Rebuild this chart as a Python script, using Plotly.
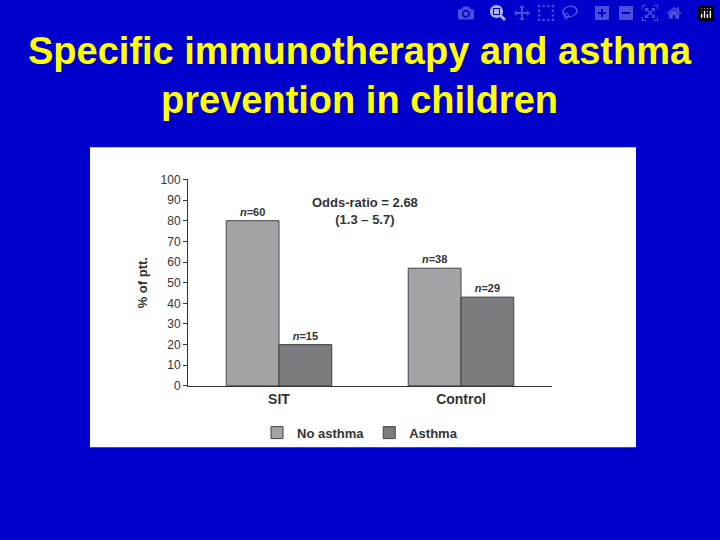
import plotly.graph_objects as go

groups = ["SIT", "Control"]
no_asthma = [80, 57]
asthma = [20, 43]
n_no = ["<b><i>n</i>=60</b>", "<b><i>n</i>=38</b>"]
n_as = ["<b><i>n</i>=15</b>", "<b><i>n</i>=29</b>"]

fig = go.Figure()
fig.add_bar(x=groups, y=no_asthma, name="<b>No asthma</b>", marker=dict(color="#a3a3a7", line=dict(color="#444", width=1)),
            text=n_no, textposition="outside", textfont=dict(size=11, color="#333", family="Arial"))
fig.add_bar(x=groups, y=asthma, name="<b>Asthma</b>", marker=dict(color="#7b7b80", line=dict(color="#444", width=1)),
            text=n_as, textposition="outside", textfont=dict(size=11, color="#333", family="Arial"))

fig.add_shape(type="rect", xref="paper", yref="paper", x0=90/720, x1=636/720, y0=1-452/540, y1=1-144/540,
              fillcolor="white", line=dict(width=0), layer="below")
fig.add_annotation(xref="paper", yref="paper", x=0.5, y=1-22/540, yanchor="top", showarrow=False,
                   text="<b>Specific immunotherapy and asthma<br>prevention in children</b>",
                   font=dict(size=38, color="#ffff00", family="Arial"))
fig.add_annotation(xref="paper", yref="paper", x=365/720, y=1-209/540, showarrow=False,
                   text="<b>Odds-ratio = 2.68<br>(1.3 – 5.7)</b>",
                   font=dict(size=13, color="#333", family="Arial"))

fig.update_layout(
    width=720, height=540, margin=dict(l=0, r=0, t=0, b=0),
    paper_bgcolor="#0000cc", plot_bgcolor="white",
    barmode="group", bargap=0.42, bargroupgap=0,
    showlegend=True,
    legend=dict(orientation="h", x=0.5, xanchor="center", y=1-437/540, yanchor="middle",
                font=dict(size=13, color="#333", family="Arial"), bgcolor="rgba(0,0,0,0)"),
    xaxis=dict(domain=[188/720, 552/720], showline=True, linecolor="#333", ticks="",
               tickvals=groups, ticktext=["<b>SIT</b>", "<b>Control</b>"],
               tickfont=dict(size=14, color="#333", family="Arial"), anchor="y"),
    yaxis=dict(domain=[1-389/540, 1-177/540], range=[0, 100], dtick=10, showline=True, linecolor="#333",
               ticks="outside", ticklen=4, tickcolor="#333", showgrid=False, zeroline=False,
               tickfont=dict(size=12, color="#333", family="Arial"),
               title=dict(text="<b>% of ptt.</b>", font=dict(size=13, color="#333", family="Arial"), standoff=10)),
)
fig.write_html("out.html", post_script="document.body.style.margin='0';document.body.style.overflow='hidden';")
